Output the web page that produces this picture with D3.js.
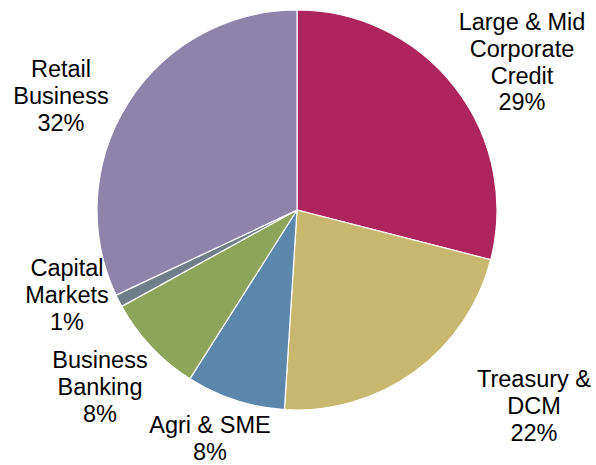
<!DOCTYPE html>
<html>
<head>
<meta charset="utf-8">
<script src="https://cdn.jsdelivr.net/npm/d3@7"></script>
<style>
  body { margin: 0; background: #fff; }
  svg text { font-family: "Liberation Sans", Arial, sans-serif; font-size: 23.5px; fill: #000; }
</style>
</head>
<body>
<svg id="chart" width="596" height="465"></svg>
<script>
// segments clockwise from 12 o'clock
const segments = ['Large & Mid Corporate Credit', 'Treasury & DCM', 'Agri & SME',
                  'Business Banking', 'Capital Markets', 'Retail Business'];
const shares   = [29, 22, 8, 8, 1, 32];
const colors   = ['#ad255c', '#c8b76e', '#5b87ad', '#8da55a', '#6f7e88', '#8e84ab'];

// label lines for each segment (last line is the percentage)
const labelLines = [
  ['Large & Mid', 'Corporate', 'Credit'],
  ['Treasury &', 'DCM'],
  ['Agri & SME'],
  ['Business', 'Banking'],
  ['Capital', 'Markets'],
  ['Retail', 'Business']
];
// label anchor: centre x and baseline of first line
const labelPos = [
  [522, 30], [534, 387], [210, 433], [100, 368], [67, 276], [61, 77]
];

const svg = d3.select('#chart');
const cx = 297, cy = 210, radius = 200;
const lineH = 26.8;

let g = svg.append('g').attr('transform', `translate(${cx},${cy})`);

let pie = d3.pie().value(d => d).sort(null);
let arc = d3.arc().innerRadius(0).outerRadius(radius);

g.selectAll('path')
  .data(pie(shares))
  .enter().append('path')
    .attr('d', arc)
    .attr('fill', (d, i) => colors[i])
    .attr('stroke', '#fff')
    .attr('stroke-width', 1.2);

let labels = svg.selectAll('.label')
  .data(segments)
  .enter().append('text')
    .attr('class', 'label')
    .attr('text-anchor', 'middle')
    .attr('transform', (d, i) => `translate(${labelPos[i][0]},${labelPos[i][1]})`);

labels.each(function(d, i) {
  let t = d3.select(this);
  let lines = labelLines[i].concat([shares[i] + '%']);
  lines.forEach((l, j) => {
    t.append('tspan').attr('x', 0).attr('y', j * lineH).text(l);
  });
});
</script>
</body>
</html>
